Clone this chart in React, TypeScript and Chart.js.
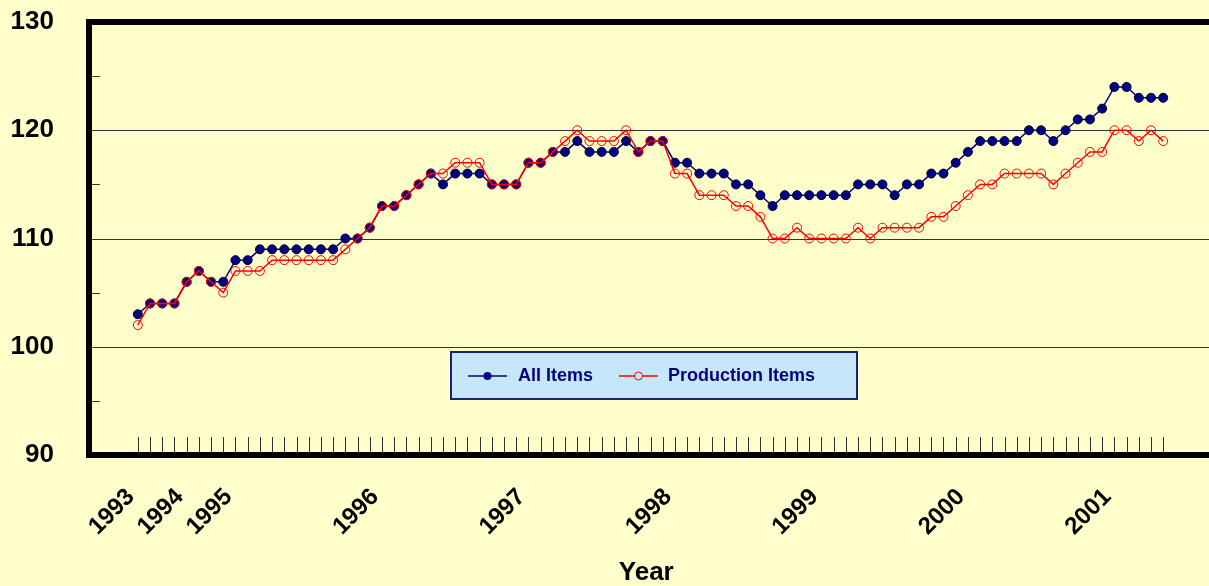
import React, { useEffect, useRef } from 'react';
import { Chart, registerables } from 'chart.js';

Chart.register(...registerables);

// Monthly index values (one entry per month, 85 months)
const allItems = [
  103, 104, 104, 104, 106, 107, 106, 106, 108, 108,
  109, 109, 109, 109, 109, 109, 109, 110, 110, 111,
  113, 113, 114, 115, 116, 115, 116, 116, 116, 115,
  115, 115, 117, 117, 118, 118, 119, 118, 118, 118,
  119, 118, 119, 119, 117, 117, 116, 116, 116, 115,
  115, 114, 113, 114, 114, 114, 114, 114, 114, 115,
  115, 115, 114, 115, 115, 116, 116, 117, 118, 119,
  119, 119, 119, 120, 120, 119, 120, 121, 121, 122,
  124, 124, 123, 123, 123,
];

const productionItems = [
  102, 104, 104, 104, 106, 107, 106, 105, 107, 107,
  107, 108, 108, 108, 108, 108, 108, 109, 110, 111,
  113, 113, 114, 115, 116, 116, 117, 117, 117, 115,
  115, 115, 117, 117, 118, 119, 120, 119, 119, 119,
  120, 118, 119, 119, 116, 116, 114, 114, 114, 113,
  113, 112, 110, 110, 111, 110, 110, 110, 110, 111,
  110, 111, 111, 111, 111, 112, 112, 113, 114, 115,
  115, 116, 116, 116, 116, 115, 116, 117, 118, 118,
  120, 120, 119, 120, 119,
];

const yearLabels = ['1993', '1994', '1995', '1996', '1997', '1998', '1999', '2000', '2001'];
const yearTickIndex = [0, 4, 8, 20, 32, 44, 56, 68, 80];
const yTickValues = [90, 100, 110, 120, 130];
const gridValues = [100, 110, 120];
const minorTickValues = [95, 100, 105, 110, 115, 120, 125];
const seriesNames = ['All Items', 'Production Items'];

const BG = '#FFFFCC';
const FONT = "'Liberation Sans', Arial, Helvetica, sans-serif";
const NAVY = '#000080';
const RED = '#FF0000';

export default function App() {
  const ref = useRef<HTMLCanvasElement>(null);

  useEffect(() => {
    document.body.style.margin = '0';
    document.body.style.background = BG;
    const canvas = ref.current!;

    const framePlugin = {
      id: 'frame',
      beforeDraw(chart: any) {
        const { ctx } = chart;
        ctx.save();
        ctx.fillStyle = BG;
        ctx.fillRect(0, 0, chart.width, chart.height);
        ctx.restore();
      },
      beforeDatasetsDraw(chart: any) {
        const { ctx, chartArea: a, scales } = chart;
        const xs = scales.x;
        const ys = scales.y;
        ctx.save();
        ctx.strokeStyle = '#333333';
        ctx.lineWidth = 1;
        gridValues.forEach((v) => {
          const y = Math.round(ys.getPixelForValue(v)) + 0.5;
          ctx.beginPath();
          ctx.moveTo(a.left, y);
          ctx.lineTo(chart.width, y);
          ctx.stroke();
        });
        minorTickValues.forEach((v) => {
          const y = Math.round(ys.getPixelForValue(v)) + 0.5;
          ctx.beginPath();
          ctx.moveTo(a.left, y);
          ctx.lineTo(a.left + 11, y);
          ctx.stroke();
        });
        allItems.forEach((_, i) => {
          const x = Math.round(xs.getPixelForValue(i)) + 0.5;
          ctx.beginPath();
          ctx.moveTo(x, a.bottom);
          ctx.lineTo(x, a.bottom - 18);
          ctx.stroke();
        });
        ctx.strokeStyle = '#000000';
        ctx.lineWidth = 6;
        ctx.lineJoin = 'miter';
        ctx.beginPath();
        ctx.moveTo(chart.width + 10, a.top);
        ctx.lineTo(a.left, a.top);
        ctx.lineTo(a.left, a.bottom);
        ctx.lineTo(chart.width + 10, a.bottom);
        ctx.stroke();
        ctx.restore();
      },
      afterDraw(chart: any) {
        const { ctx } = chart;
        ctx.save();
        // legend box
        const bx = 451, by = 352, bw = 406, bh = 47;
        ctx.fillStyle = '#C6E6FA';
        ctx.fillRect(bx, by, bw, bh);
        ctx.strokeStyle = '#1F1F7A';
        ctx.lineWidth = 2;
        ctx.strokeRect(bx, by, bw, bh);
        const cy = 376;
        // All Items sample
        ctx.strokeStyle = NAVY;
        ctx.lineWidth = 1.5;
        ctx.beginPath();
        ctx.moveTo(468, cy);
        ctx.lineTo(507, cy);
        ctx.stroke();
        ctx.fillStyle = NAVY;
        ctx.beginPath();
        ctx.arc(487.5, cy, 4, 0, Math.PI * 2);
        ctx.fill();
        // Production Items sample
        ctx.strokeStyle = RED;
        ctx.beginPath();
        ctx.moveTo(619, cy);
        ctx.lineTo(658, cy);
        ctx.stroke();
        ctx.fillStyle = '#C6E6FA';
        ctx.lineWidth = 1;
        ctx.beginPath();
        ctx.arc(638.5, cy, 4, 0, Math.PI * 2);
        ctx.fill();
        ctx.stroke();
        ctx.fillStyle = NAVY;
        ctx.font = `bold 18px ${FONT}`;
        ctx.textBaseline = 'middle';
        ctx.textAlign = 'left';
        ctx.fillText(seriesNames[0], 518, cy);
        ctx.fillText(seriesNames[1], 668, cy);
        ctx.restore();
      },
    };

    const chart = new Chart(canvas, {
      type: 'line',
      data: {
        datasets: [
          {
            label: seriesNames[0],
            data: allItems.map((v, i) => ({ x: i, y: v })),
            borderColor: NAVY,
            borderWidth: 1.5,
            pointRadius: 4.5,
            pointBackgroundColor: NAVY,
            pointBorderColor: '#000033',
            pointBorderWidth: 1,
            order: 2,
          },
          {
            label: seriesNames[1],
            data: productionItems.map((v, i) => ({ x: i, y: v })),
            borderColor: RED,
            borderWidth: 1.5,
            pointRadius: 4.5,
            pointBackgroundColor: 'rgba(0,0,0,0)',
            pointBorderColor: RED,
            pointBorderWidth: 1,
            order: 1,
          },
        ],
      },
      options: {
        animation: false,
        responsive: false,
        devicePixelRatio: 1,
        layout: { padding: { top: 22, left: 0, right: 0, bottom: 0 } },
        plugins: { legend: { display: false }, tooltip: { enabled: false } },
        scales: {
          x: {
            type: 'linear',
            min: -4,
            max: 87.3,
            grid: { display: false, drawTicks: false },
            border: { display: false },
            afterBuildTicks: (s: any) => {
              s.ticks = yearTickIndex.map((v) => ({ value: v }));
            },
            afterFit: (s: any) => {
              s.height = 131;
              s.paddingLeft = 0;
              s.paddingRight = 0;
            },
            ticks: {
              autoSkip: false,
              minRotation: 45,
              maxRotation: 45,
              padding: 28,
              labelOffset: -7,
              color: '#000000',
              font: { family: FONT, size: 24, weight: 'bold' },
              callback: (v: any) => {
                const k = yearTickIndex.indexOf(Number(v));
                return k >= 0 ? yearLabels[k] : '';
              },
            },
            title: {
              display: true,
              text: 'Year',
              color: '#000000',
              padding: 0,
              font: { family: FONT, size: 26, weight: 'bold', lineHeight: 1 },
            },
          },
          y: {
            min: 90,
            max: 130,
            grid: { display: false, drawTicks: false },
            border: { display: false },
            afterBuildTicks: (s: any) => {
              s.ticks = yTickValues.map((v) => ({ value: v }));
            },
            afterFit: (s: any) => {
              s.width = 89;
              s.paddingTop = 0;
              s.paddingBottom = 0;
            },
            ticks: {
              padding: 35,
              color: '#000000',
              font: { family: FONT, size: 26, weight: 'bold' },
            },
          },
        },
      } as any,
      plugins: [framePlugin],
    });

    return () => chart.destroy();
  }, []);

  return (
    <div style={{ width: 1209, height: 586 }}>
      <canvas ref={ref} width={1209} height={586} style={{ display: 'block' }} />
    </div>
  );
}
